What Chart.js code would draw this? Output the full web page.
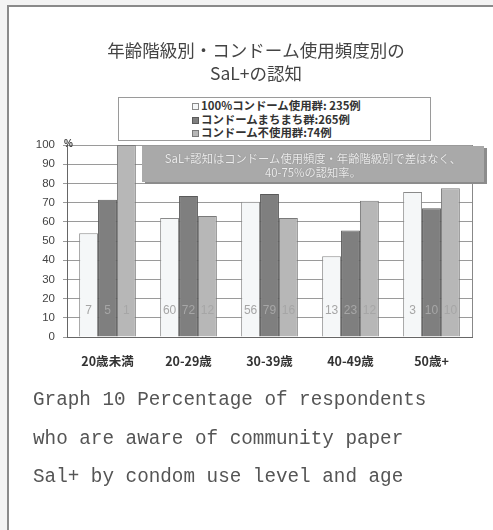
<!DOCTYPE html>
<html>
<head>
<meta charset="utf-8">
<script src="https://cdn.jsdelivr.net/npm/chart.js@4/dist/chart.umd.min.js"></script>
<style>
  html, body { margin: 0; padding: 0; background: #f3f3f3; }
  #wrap { position: relative; width: 493px; height: 530px; overflow: hidden; background: #f3f3f3; }
  #frame { position: absolute; left: 7px; top: 5px; width: 500px; height: 540px; border-left: 2px solid #8a8a8a; border-top: 2px solid #8a8a8a; background: #fff; }
  canvas { position: absolute; left: 0; top: 0; }
  #legend { position: absolute; left: 118px; top: 97px; width: 313px; height: 44px; border: 1px solid #9a9a9a; background: #fff; box-sizing: border-box; padding: 1px 0 0 73px; font-family: "Noto Sans CJK JP", sans-serif; font-weight: bold; font-size: 11.4px; color: #333; }
  .li { height: 13.5px; line-height: 13.5px; white-space: nowrap; }
  .mk { display: inline-block; width: 7px; height: 7px; border: 1px solid #555; margin-right: 2px; vertical-align: 0px; box-sizing: border-box; }
  #note { position: absolute; left: 142px; top: 146px; width: 342px; height: 36px; background: #a9a9a9; box-shadow: 3px 2px 0 #8c8c8c; font-family: "Noto Sans CJK JP", sans-serif; font-size: 11.3px; line-height: 14px; color: #ececec; text-align: center; padding-top: 5px; box-sizing: border-box; text-shadow: 0 0 1px #777; white-space: nowrap; }
  #caption { position: absolute; left: 33px; top: 381px; font-family: "Liberation Mono", monospace; font-size: 19.3px; line-height: 38.5px; color: #555; white-space: pre; }
</style>
</head>
<body>
<div id="wrap">
  <div id="frame"></div>
  <canvas id="c" width="493" height="530"></canvas>
  <div id="legend"></div>
  <div id="note">SaL+認知はコンドーム使用頻度・年齢階級別で差はなく、<br>40-75%の認知率。</div>
  <div id="caption">Graph 10 Percentage of respondents
who are aware of community paper
Sal+ by condom use level and age</div>
</div>
<script>
const titleLines = ['年齢階級別・コンドーム使用頻度別の', 'SaL+の認知'];
const categories = ['20歳未満', '20-29歳', '30-39歳', '40-49歳', '50歳+'];
const seriesNames = ['100%コンドーム使用群: 235例', 'コンドームまちまち群:265例', 'コンドーム不使用群:74例'];
const fullUse = [54, 62, 70.5, 42, 75.5];
const mixedUse = [71.5, 73.5, 74.5, 55.5, 67];
const noUse = [100, 63, 62, 71, 77.5];
const countsFull = [7, 60, 56, 13, 3];
const countsMixed = [5, 72, 79, 23, 10];
const countsNone = [1, 12, 16, 12, 10];
const yTicks = [0, 10, 20, 30, 40, 50, 60, 70, 80, 90, 100];

const fills = ['#f5f7f8', '#7f7f7f', '#b7b7b7'];
const borders = ['#8a8a8a', '#5a5a5a', '#7a7a7a'];

// HTML legend
const lg = document.getElementById('legend');
seriesNames.forEach((n, i) => {
  const d = document.createElement('div');
  d.className = 'li';
  d.innerHTML = '<span class="mk" style="background:' + fills[i] + ';border-color:' + borders[i] + '"></span>' + n;
  lg.appendChild(d);
});

const extras = {
  id: 'extras',
  afterDraw(chart) {
    const ctx = chart.ctx;
    ctx.save();
    ctx.font = '17.5px "Noto Sans CJK JP", sans-serif';
    ctx.fillStyle = '#444';
    ctx.textAlign = 'center';
    ctx.textBaseline = 'middle';
    titleLines.forEach((t, i) => ctx.fillText(t, 256, 50 + i * 23));
    ctx.restore();
  },
  afterDatasetsDraw(chart) {
    const ctx = chart.ctx;
    const ca = chart.chartArea;
    const y = chart.scales.y;
    ctx.save();
    ctx.strokeStyle = '#888';
    ctx.lineWidth = 1;
    ctx.beginPath();
    ctx.moveTo(Math.round(ca.right) + 0.5, ca.top);
    ctx.lineTo(Math.round(ca.right) + 0.5, ca.bottom);
    ctx.stroke();
    const counts = [countsFull, countsMixed, countsNone];
    ctx.font = '12px "Liberation Sans", Arial, sans-serif';
    ctx.fillStyle = '#a6a6a6';
    ctx.textAlign = 'center';
    ctx.textBaseline = 'middle';
    const ly = y.getPixelForValue(13.5);
    counts.forEach((arr, di) => {
      const meta = chart.getDatasetMeta(di);
      meta.data.forEach((bar, i) => {
        ctx.fillText(String(arr[i]), bar.x, ly);
      });
    });
    ctx.font = 'bold 10px "Liberation Sans", Arial, sans-serif';
    ctx.fillStyle = '#444';
    ctx.textAlign = 'left';
    ctx.textBaseline = 'middle';
    ctx.fillText('%', ca.left - 3, ca.top - 1);
    ctx.restore();
  }
};

new Chart(document.getElementById('c'), {
  type: 'bar',
  data: {
    labels: categories,
    datasets: [
      { label: seriesNames[0], data: fullUse, backgroundColor: fills[0], borderColor: borders[0], borderWidth: 1 },
      { label: seriesNames[1], data: mixedUse, backgroundColor: fills[1], borderColor: borders[1], borderWidth: 1 },
      { label: seriesNames[2], data: noUse, backgroundColor: fills[2], borderColor: borders[2], borderWidth: 1 }
    ]
  },
  options: {
    responsive: false,
    animation: false,
    devicePixelRatio: 1,
    layout: { padding: { left: 10, right: 21, top: 145, bottom: 163 } },
    datasets: { bar: { categoryPercentage: 0.7, barPercentage: 1.0 } },
    plugins: {
      legend: { display: false },
      tooltip: { enabled: false },
      title: { display: false }
    },
    scales: {
      x: {
        grid: { display: false },
        border: { display: true, color: '#666', width: 1 },
        ticks: { color: '#333', padding: 9, font: { family: '"Noto Sans CJK JP", sans-serif', size: 12.5, weight: 'bold' } },
        afterFit(s) { s.height = 30; }
      },
      y: {
        min: 0, max: 100,
        afterBuildTicks(s) { s.ticks = yTicks.map(v => ({ value: v })); },
        grid: { color: '#9a9a9a', lineWidth: 1, tickLength: 4 },
        border: { display: true, color: '#666', width: 1 },
        ticks: { color: '#444', padding: 8, font: { family: '"Liberation Sans", Arial, sans-serif', size: 11.5 } },
        afterFit(s) { s.width = 57; }
      }
    }
  },
  plugins: [extras]
});
</script>
</body>
</html>
